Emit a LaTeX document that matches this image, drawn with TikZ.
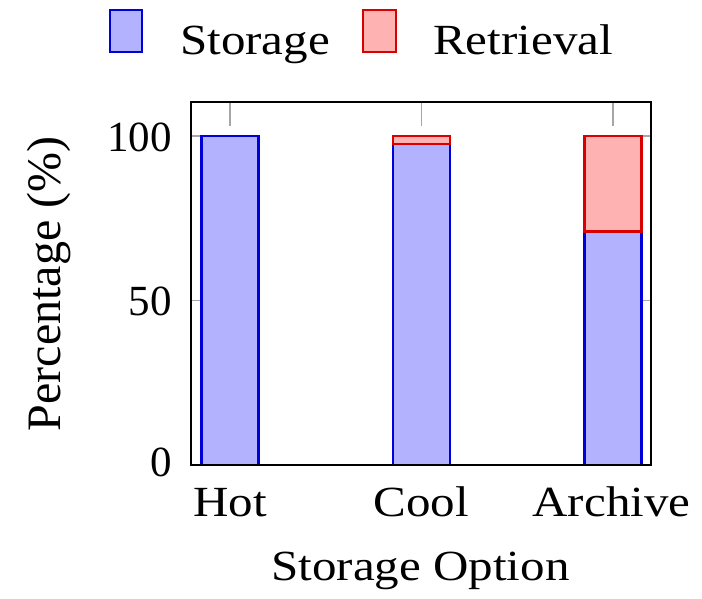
\documentclass[tikz,border=0pt]{standalone}
\usepackage{fontspec}
\setmainfont[FakeStretch=1.14]{Liberation Serif}
\newfontfamily\numfont{Liberation Serif}
\begin{document}
\begin{tikzpicture}[x=1pt,y=1pt,
  frame/.style={draw=black,line width=2.8pt},
  tickline/.style={draw=gray!70,line width=1.4pt},
  storebar/.style={draw=blue!85!black,fill=blue!30,line width=2.3pt},
  retrbar/.style={draw=red!85!black,fill=red!30,line width=2.3pt},
  lbl/.style={inner sep=0pt,font=\fontsize{43}{50}\selectfont},
  num/.style={inner sep=0pt,font=\numfont\fontsize{43}{50}\selectfont}]
\useasboundingbox (0,0) rectangle (702,598);
% data mapping: x = 230 + 191.5 d ; y = 133 + 3.29 v
% ticks
\foreach \xx in {230,421.5,613}{
  \draw[tickline] (\xx,496) -- (\xx,472);
  \draw[tickline] (\xx,133) -- (\xx,157);}
\foreach \yy in {133,297.5,462}{
  \draw[tickline] (191,\yy) -- (215,\yy);
  \draw[tickline] (651,\yy) -- (627,\yy);}
% bars
\draw[storebar] (201.5,133) rectangle (258.5,462);
\draw[storebar] (393,133) rectangle (450,453.8);
\draw[retrbar] (393,453.8) rectangle (450,462);
\draw[storebar] (584.5,133) rectangle (641.5,366.6);
\draw[retrbar] (584.5,366.6) rectangle (641.5,462);
% frame
\draw[frame] (191,133) rectangle (651,496);
% tick labels
\node[num,anchor=east] (t100) at (172,461) {100};
\node[num,anchor=east] (t50) at (172,297) {50};
\node[num,anchor=east] (t0) at (172,136) {0};
\node[lbl,anchor=base] (xhot) at (230,82) {Hot};
\node[lbl,anchor=base] (xcool) at (421,82) {Cool};
\node[lbl,anchor=base] (xarch) at (611.5,82) {Archive};
% axis labels
\node[lbl,anchor=base] (xlab) at (420.5,18) {Storage Option};
\node[num,anchor=base,rotate=90,font=\numfont\fontsize{48}{54}\selectfont] (ylab) at (60,314) {Percentage (\%)};
% legend
\draw[storebar] (110,546) rectangle (142,588);
\node[lbl,anchor=base west] (lstore) at (180,543) {Storage};
\draw[retrbar] (363,546) rectangle (396,588);
\node[lbl,anchor=base west] (lretr) at (433,543) {Retrieval};
\end{tikzpicture}
\end{document}
